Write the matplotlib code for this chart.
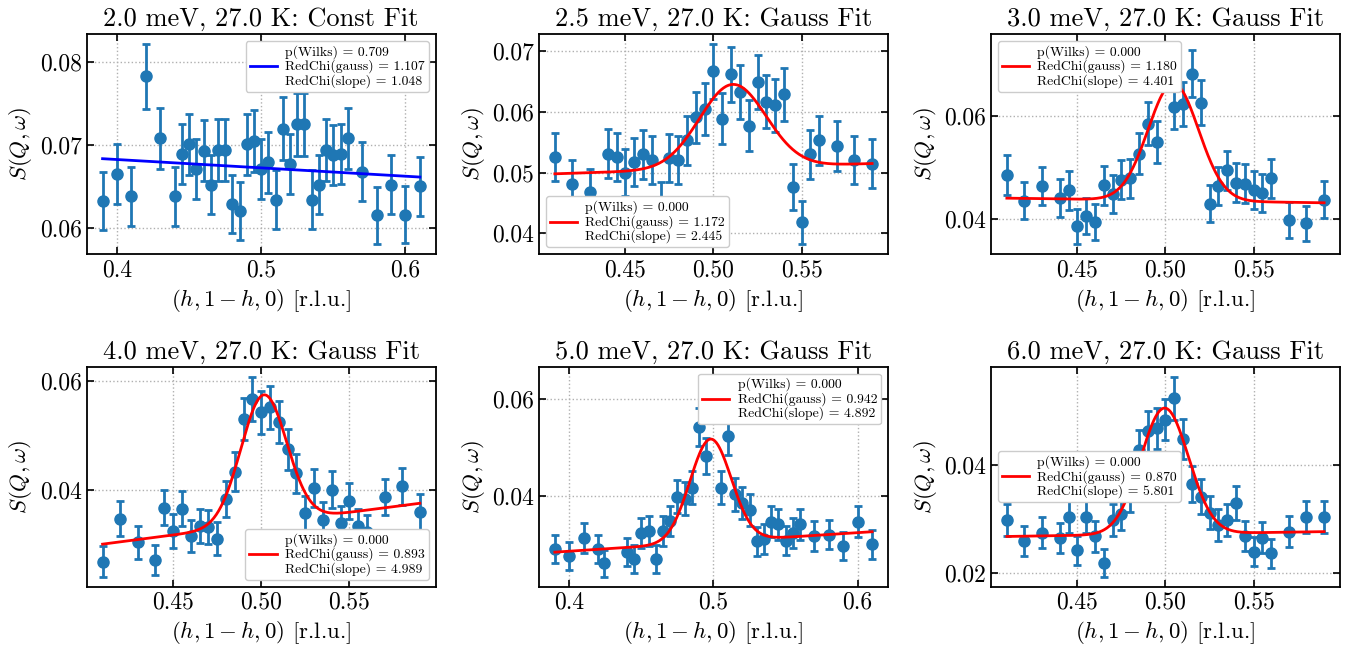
import numpy as np
import matplotlib
matplotlib.use("Agg")
import matplotlib.pyplot as plt

plt.rcParams.update({
    "font.family": "serif",
    "font.serif": ["cmr10"],
    "mathtext.fontset": "cm",
    "axes.formatter.use_mathtext": True,
    "axes.unicode_minus": False,
    "axes.linewidth": 1.3,
    "xtick.direction": "in",
    "ytick.direction": "in",
    "xtick.top": True,
    "ytick.right": True,
    "xtick.major.size": 5,
    "ytick.major.size": 5,
    "xtick.major.width": 1.2,
    "ytick.major.width": 1.2,
    "xtick.labelsize": 17,
    "ytick.labelsize": 17,
    "axes.labelsize": 16.5,
    "axes.titlesize": 19,
})

# ---- scan data: h positions, S(Q,w) and uncertainties for each energy cut ----
h_2p0 = [0.39, 0.40, 0.41, 0.42, 0.43, 0.44, 0.445, 0.45, 0.455, 0.46, 0.465, 0.47,
         0.475, 0.48, 0.485, 0.49, 0.495, 0.50, 0.505, 0.51, 0.515, 0.52, 0.525, 0.53,
         0.535, 0.54, 0.545, 0.55, 0.555, 0.56, 0.57, 0.58, 0.59, 0.60, 0.61]
s_2p0 = [0.0632, 0.0665, 0.0638, 0.0783, 0.0708, 0.0638, 0.0689, 0.0701, 0.0671, 0.0693,
         0.0652, 0.0694, 0.0694, 0.0629, 0.0620, 0.0701, 0.0705, 0.0671, 0.0679, 0.0634,
         0.0720, 0.0677, 0.0725, 0.0725, 0.0634, 0.0652, 0.0694, 0.0688, 0.0689, 0.0708,
         0.0668, 0.0615, 0.0652, 0.0616, 0.0650]
e_2p0 = [0.00352, 0.00361, 0.00354, 0.00392, 0.00373, 0.00354, 0.00367, 0.00371, 0.00363,
         0.00369, 0.00357, 0.00369, 0.00369, 0.00351, 0.00349, 0.00371, 0.00372, 0.00363,
         0.00365, 0.00353, 0.00376, 0.00364, 0.00377, 0.00377, 0.00353, 0.00357, 0.00369,
         0.00367, 0.00367, 0.00373, 0.00362, 0.00347, 0.00357, 0.00347, 0.00357]

h_2p5 = [0.41, 0.42, 0.43, 0.44, 0.445, 0.45, 0.455, 0.46, 0.465, 0.47, 0.475, 0.48,
         0.485, 0.49, 0.495, 0.50, 0.505, 0.51, 0.515, 0.52, 0.525, 0.53, 0.535, 0.54,
         0.545, 0.55, 0.555, 0.56, 0.57, 0.58, 0.59]
s_2p5 = [0.0526, 0.0482, 0.0468, 0.0531, 0.0526, 0.0500, 0.0518, 0.0530, 0.0521, 0.0447,
         0.0524, 0.0521, 0.0553, 0.0591, 0.0605, 0.0667, 0.0589, 0.0662, 0.0633, 0.0577,
         0.0650, 0.0617, 0.0611, 0.0629, 0.0476, 0.0418, 0.0530, 0.0553, 0.0544, 0.0521,
         0.0515]
e_2p5 = [0.00401, 0.00384, 0.00379, 0.00403, 0.00401, 0.00391, 0.00398, 0.00403, 0.00400,
         0.00370, 0.00401, 0.00400, 0.00412, 0.00425, 0.00430, 0.00452, 0.00425, 0.00450,
         0.00440, 0.00420, 0.00446, 0.00435, 0.00433, 0.00439, 0.00382, 0.00358, 0.00403,
         0.00412, 0.00408, 0.00400, 0.00397]

h_3p0 = list(h_2p5)
s_3p0 = [0.0486, 0.0436, 0.0465, 0.0441, 0.0456, 0.0386, 0.0406, 0.0395, 0.0466, 0.0450,
         0.0477, 0.0480, 0.0527, 0.0586, 0.0550, 0.0695, 0.0619, 0.0624, 0.0683, 0.0627,
         0.0430, 0.0465, 0.0495, 0.0471, 0.0469, 0.0457, 0.0451, 0.0480, 0.0398, 0.0392,
         0.0438]
e_3p0 = [0.00384, 0.00363, 0.00375, 0.00365, 0.00372, 0.00342, 0.00351, 0.00346, 0.00376,
         0.00369, 0.00380, 0.00381, 0.00399, 0.00421, 0.00408, 0.00459, 0.00433, 0.00435,
         0.00455, 0.00436, 0.00361, 0.00375, 0.00387, 0.00378, 0.00377, 0.00372, 0.00370,
         0.00381, 0.00347, 0.00345, 0.00364]

h_4p0 = list(h_2p5)
s_4p0 = [0.0268, 0.0347, 0.0303, 0.0271, 0.0367, 0.0324, 0.0365, 0.0315, 0.0334, 0.0332,
         0.0310, 0.0383, 0.0433, 0.0530, 0.0567, 0.0542, 0.0551, 0.0524, 0.0474, 0.0430,
         0.0357, 0.0403, 0.0345, 0.0400, 0.0338, 0.0380, 0.0333, 0.0323, 0.0386, 0.0406,
         0.0359]
e_4p0 = [0.00278, 0.00317, 0.00296, 0.00280, 0.00326, 0.00306, 0.00325, 0.00302, 0.00311,
         0.00310, 0.00299, 0.00333, 0.00354, 0.00391, 0.00405, 0.00396, 0.00399, 0.00389,
         0.00370, 0.00353, 0.00321, 0.00341, 0.00316, 0.00340, 0.00313, 0.00331, 0.00310,
         0.00306, 0.00334, 0.00343, 0.00322]

h_5p0 = [0.39, 0.40, 0.41, 0.42, 0.424, 0.44, 0.445, 0.45, 0.455, 0.46, 0.465, 0.47,
         0.475, 0.48, 0.485, 0.49, 0.495, 0.50, 0.505, 0.51, 0.515, 0.52, 0.525, 0.53,
         0.535, 0.54, 0.545, 0.55, 0.555, 0.56, 0.57, 0.58, 0.59, 0.60, 0.61]
s_5p0 = [0.0291, 0.0277, 0.0314, 0.0291, 0.0262, 0.0286, 0.0271, 0.0324, 0.0329, 0.0271,
         0.0329, 0.0349, 0.0399, 0.0395, 0.0418, 0.0542, 0.0483, 0.0606, 0.0418, 0.0524,
         0.0404, 0.0386, 0.0371, 0.0307, 0.0312, 0.0348, 0.0342, 0.0308, 0.0324, 0.0342,
         0.0318, 0.0321, 0.0298, 0.0348, 0.0301]
e_5p0 = [0.00290, 0.00283, 0.00301, 0.00290, 0.00275, 0.00287, 0.00280, 0.00306, 0.00308,
         0.00280, 0.00308, 0.00318, 0.00340, 0.00338, 0.00348, 0.00396, 0.00374, 0.00400,
         0.00348, 0.00389, 0.00342, 0.00334, 0.00327, 0.00298, 0.00300, 0.00317, 0.00314,
         0.00298, 0.00306, 0.00314, 0.00303, 0.00305, 0.00293, 0.00317, 0.00295]

h_6p0 = list(h_2p5)
s_6p0 = [0.0297, 0.0259, 0.0274, 0.0264, 0.0303, 0.0241, 0.0303, 0.0267, 0.0218, 0.0297,
         0.0309, 0.0345, 0.0428, 0.0462, 0.0468, 0.0484, 0.0524, 0.0448, 0.0365, 0.0341,
         0.0311, 0.0289, 0.0298, 0.0329, 0.0268, 0.0239, 0.0265, 0.0236, 0.0276, 0.0303,
         0.0303]
e_6p0 = [0.00300, 0.00280, 0.00288, 0.00283, 0.00303, 0.00270, 0.00303, 0.00284, 0.00257,
         0.00300, 0.00306, 0.00323, 0.00360, 0.00374, 0.00376, 0.00383, 0.00398, 0.00368,
         0.00332, 0.00321, 0.00307, 0.00296, 0.00300, 0.00316, 0.00285, 0.00269, 0.00283,
         0.00267, 0.00289, 0.00303, 0.00303]

# ---- fit parameters: background at h=0.5, background slope, amplitude, centre, sigma ----
fit_2p0 = [0.06724, -0.01009, 0.0, 0.5, 0.01]
fit_2p5 = [0.05065, 0.00944, 0.0138, 0.511, 0.0189]
fit_3p0 = [0.04365, -0.0050, 0.0228, 0.5045, 0.0143]
fit_4p0 = [0.03375, 0.0417, 0.0236, 0.5015, 0.0130]
fit_5p0 = [0.03060, 0.0191, 0.0212, 0.4980, 0.0143]
fit_6p0 = [0.02715, 0.0050, 0.0234, 0.4995, 0.0136]

energies = ["2.0", "2.5", "3.0", "4.0", "5.0", "6.0"]
fit_kinds = ["Const", "Gauss", "Gauss", "Gauss", "Gauss", "Gauss"]
p_wilks = ["0.709", "0.000", "0.000", "0.000", "0.000", "0.000"]
redchi_gauss = ["1.107", "1.172", "1.180", "0.893", "0.942", "0.870"]
redchi_slope = ["1.048", "2.445", "4.401", "4.989", "4.892", "5.801"]
legend_locs = ["upper right", "lower left", "upper left", "lower right", "upper right", "center left"]
fit_colors = ["blue", "red", "red", "red", "red", "red"]

hs = [h_2p0, h_2p5, h_3p0, h_4p0, h_5p0, h_6p0]
ss = [s_2p0, s_2p5, s_3p0, s_4p0, s_5p0, s_6p0]
es = [e_2p0, e_2p5, e_3p0, e_4p0, e_5p0, e_6p0]
fits = [fit_2p0, fit_2p5, fit_3p0, fit_4p0, fit_5p0, fit_6p0]


def model(h, p):
    b0, b1, amp, cen, sig = p
    return b0 + b1 * (h - 0.5) + amp * np.exp(-(h - cen) ** 2 / (2 * sig ** 2))


fig = plt.figure(figsize=(13.59, 6.49), dpi=100)
col_left = [0.0638, 0.3966, 0.7292]
row_bottom = [0.6086, 0.0960]
ax_w, ax_h = 0.2568, 0.339

for i in range(6):
    r, c = divmod(i, 3)
    ax = fig.add_axes([col_left[c], row_bottom[r], ax_w, ax_h])
    h = np.array(hs[i])
    s = np.array(ss[i])
    e = np.array(es[i])
    ax.errorbar(h, s, yerr=e, fmt="o", color="#1f77b4", ms=8, elinewidth=2,
                capsize=2.6, capthick=2, zorder=3)
    hf = np.linspace(h.min(), h.max(), 400)
    label = (f"p(Wilks) = {p_wilks[i]}\nRedChi(gauss) = {redchi_gauss[i]}\n"
             f"RedChi(slope) = {redchi_slope[i]}")
    ax.plot(hf, model(hf, fits[i]), color=fit_colors[i], lw=2, label=label, zorder=4)
    ax.grid(True, linestyle=":", color="#b0b0b0", linewidth=1)
    ax.set_axisbelow(True)
    ax.set_title(f"{energies[i]} meV, 27.0 K: {fit_kinds[i]} Fit")
    ax.set_xlabel(r"$(h,1-h,0)$ [r.l.u.]")
    ax.set_ylabel(r"$S(Q,\omega)$")
    if len(h) == 35:
        ax.set_xticks([0.4, 0.5, 0.6])
        ax.set_xticklabels(["0.4", "0.5", "0.6"])
    else:
        ax.set_xticks([0.45, 0.50, 0.55])
        ax.set_xticklabels(["0.45", "0.50", "0.55"])
    ax.yaxis.set_major_locator(matplotlib.ticker.MultipleLocator(0.01 if i < 2 else 0.02))
    ax.yaxis.set_major_formatter(matplotlib.ticker.FormatStrFormatter("%.2f"))
    leg = ax.legend(loc=legend_locs[i], fontsize=9.9, handlelength=2.0,
                    handletextpad=0.6, borderpad=0.28, framealpha=1.0)
    for t in leg.get_texts():
        t.set_linespacing(1.08)
    leg.set_zorder(10)

fig.savefig("out.png", dpi=100)
